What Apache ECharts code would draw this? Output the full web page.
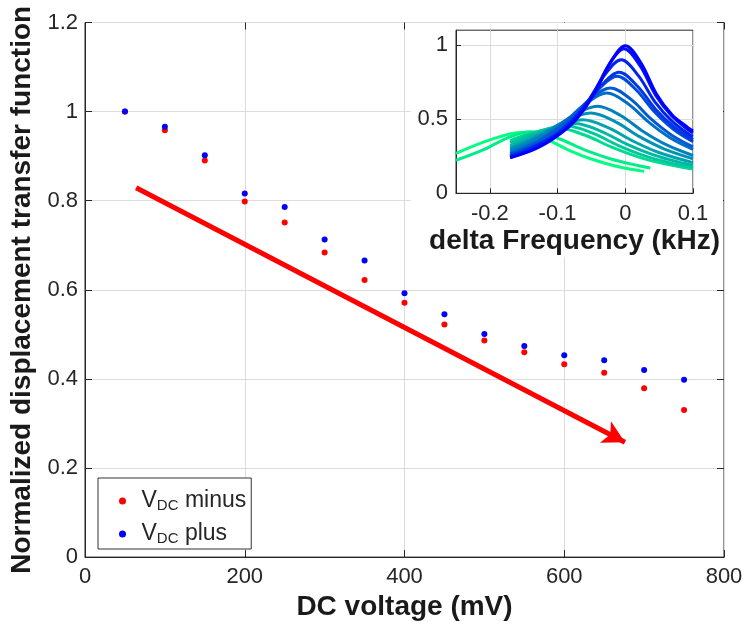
<!DOCTYPE html>
<html><head><meta charset="utf-8">
<script src="https://cdn.jsdelivr.net/npm/echarts@6/dist/echarts.min.js"></script>
<style>html,body{margin:0;padding:0;background:#fff}#c{width:747px;height:626px}</style>
</head><body><div id="c"></div>
<script>
// ---- data ----
const voltages = [50,100,150,200,250,300,350,400,450,500,550,600,650,700,750];
const vdcMinus = [1.0,0.958,0.890,0.798,0.751,0.684,0.622,0.571,0.522,0.486,0.460,0.433,0.414,0.379,0.330];
const vdcPlus  = [1.0,0.966,0.902,0.816,0.786,0.713,0.666,0.592,0.545,0.501,0.474,0.453,0.442,0.420,0.398];
const arrowStart = [64, 0.829];
const arrowEnd = [676, 0.258];
const insetXTicks = [-0.2,-0.1,0,0.1];
const insetYTicks = [0,0.5,1];
// inset resonance curves: [delta frequency (kHz), normalized amplitude]
const curve0  = [[-0.17,0.239],[-0.126,0.314],[-0.084,0.445],[-0.063,0.552],[-0.042,0.703],[-0.021,0.890],[0,0.995],[0.023,0.880],[0.046,0.670],[0.069,0.530],[0.092,0.445],[0.1,0.420]];
const curve1  = [[-0.17,0.242],[-0.131,0.308],[-0.088,0.436],[-0.0665,0.541],[-0.045,0.689],[-0.0235,0.872],[-0.002,0.975],[0.0215,0.862],[0.045,0.660],[0.0685,0.523],[0.092,0.432],[0.1,0.407]];
const curve2  = [[-0.17,0.248],[-0.147,0.284],[-0.1,0.402],[-0.0765,0.5],[-0.053,0.636],[-0.0295,0.805],[-0.006,0.9],[0.019,0.795],[0.044,0.615],[0.069,0.487],[0.094,0.398],[0.1,0.384]];
const curve3  = [[-0.17,0.25],[-0.113,0.365],[-0.087,0.453],[-0.061,0.577],[-0.035,0.729],[-0.009,0.816],[0.018,0.722],[0.045,0.565],[0.072,0.447],[0.1,0.362]];
const curve4  = [[-0.17,0.255],[-0.12,0.353],[-0.093,0.438],[-0.066,0.558],[-0.039,0.705],[-0.012,0.789],[0.0155,0.700],[0.043,0.550],[0.0705,0.434],[0.1,0.348]];
const curve5  = [[-0.17,0.267],[-0.142,0.317],[-0.112,0.394],[-0.082,0.502],[-0.052,0.635],[-0.022,0.71],[0.008,0.635],[0.038,0.502],[0.068,0.394],[0.1,0.313]];
const curve6  = [[-0.17,0.272],[-0.153,0.302],[-0.1215,0.375],[-0.09,0.478],[-0.0585,0.604],[-0.027,0.676],[0.004,0.604],[0.035,0.478],[0.066,0.375],[0.1,0.296]];
const curve7  = [[-0.17,0.286],[-0.149,0.326],[-0.113,0.415],[-0.077,0.525],[-0.041,0.587],[-0.007,0.525],[0.027,0.415],[0.061,0.326],[0.1,0.255]];
const curve8  = [[-0.17,0.296],[-0.129,0.382],[-0.09,0.484],[-0.051,0.541],[-0.015,0.484],[0.021,0.382],[0.057,0.30],[0.1,0.233]];
const curve9  = [[-0.17,0.306],[-0.147,0.351],[-0.105,0.443],[-0.063,0.496],[-0.0255,0.443],[0.012,0.351],[0.0495,0.275],[0.1,0.207]];
const curve10 = [[-0.17,0.32],[-0.119,0.42],[-0.075,0.47],[-0.0365,0.42],[0.002,0.332],[0.0405,0.261],[0.079,0.21],[0.1,0.19]];
const curve11 = [[-0.17,0.34],[-0.134,0.407],[-0.088,0.455],[-0.049,0.407],[-0.01,0.322],[0.029,0.252],[0.068,0.203],[0.1,0.174]];
const curve12 = [[-0.17,0.354],[-0.1475,0.393],[-0.1,0.44],[-0.06,0.393],[-0.02,0.311],[0.02,0.244],[0.06,0.197],[0.1,0.163]];
const curve13 = [[-0.25,0.223],[-0.21,0.293],[-0.175,0.371],[-0.14,0.415],[-0.1,0.371],[-0.06,0.293],[-0.02,0.230],[0.02,0.186],[0.037,0.171]];
const curve14 = [[-0.25,0.27],[-0.1955,0.367],[-0.153,0.41],[-0.118,0.367],[-0.083,0.29],[-0.048,0.228],[-0.013,0.183],[0.028,0.148]];
const insetCurves = [curve0,curve1,curve2,curve3,curve4,curve5,curve6,curve7,curve8,curve9,curve10,curve11,curve12,curve13,curve14];

// ---- styles ----
const FONT = 'Liberation Sans, Arial, Helvetica, sans-serif';
const TXT = '#262626';
const GRIDC = '#dcdcdc';
function winter(i, n) { const t = i / (n - 1); return 'rgb(0,' + Math.round(255 * t) + ',' + Math.round(255 * (1 - 0.5 * t)) + ')'; }

const chart = echarts.init(document.getElementById('c'), null, {renderer: 'canvas'});

const insetSeries = [];
for (let i = insetCurves.length - 1; i >= 0; i--) {
  insetSeries.push({
    type: 'line', xAxisIndex: 2, yAxisIndex: 2, data: insetCurves[i],
    showSymbol: false, smooth: 0.35, z: 12, silent: true,
    lineStyle: {width: 3, color: winter(i, insetCurves.length)}
  });
}

const option = {
  animation: false,
  textStyle: {fontFamily: FONT},
  graphic: {elements: [{type: 'rect', z: 5, silent: true, shape: {x: 411, y: 23, width: 312, height: 234}, style: {fill: '#fff'}}]},
  legend: {
    data: ['VDC minus', 'VDC plus'], orient: 'vertical', left: 98, top: 478,
    padding: [3, 5, 3, 21], itemGap: 1, itemWidth: 28, itemHeight: 7, icon: 'circle',
    borderColor: '#333', borderWidth: 1, backgroundColor: '#fff',
    formatter: function (name) { return '{a|V}{s|DC}{a| ' + name.slice(4) + '}'; },
    textStyle: {color: TXT, fontFamily: FONT, rich: {
      a: {fontSize: 23, lineHeight: 24, verticalAlign: 'top', color: TXT, fontFamily: FONT},
      s: {fontSize: 15, lineHeight: 15, verticalAlign: 'bottom', padding: [17, 0, 0, 0], color: TXT, fontFamily: FONT}
    }}
  },
  grid: [
    {left: 85, top: 22.5, width: 639, height: 538, show: true, borderColor: '#262626', borderWidth: 1, containLabel: false},
    {left: 456, top: 30.2, width: 237, height: 163.1, show: true, borderColor: '#262626', borderWidth: 1, z: 10, containLabel: false}
  ],
  xAxis: [
    {gridIndex: 0, type: 'value', min: 0, max: 800, interval: 200,
     name: 'DC voltage (mV)', nameLocation: 'middle', nameGap: 31,
     nameTextStyle: {fontSize: 28, fontWeight: 'bold', color: '#1a1a1a', fontFamily: FONT},
     axisLine: {onZero: false, lineStyle: {color: '#262626'}}, axisTick: {inside: true, length: 7, lineStyle: {color: '#262626'}},
     axisLabel: {fontSize: 22, color: TXT, margin: 9, fontFamily: FONT},
     splitLine: {show: true, lineStyle: {color: GRIDC}}},
    {gridIndex: 0, type: 'value', position: 'top', min: 0, max: 800, interval: 200,
     axisLine: {show: false, onZero: false}, axisTick: {inside: true, length: 7, lineStyle: {color: '#262626'}},
     axisLabel: {show: false}, splitLine: {show: false}},
    {gridIndex: 1, type: 'value', min: -0.25, max: 0.1, z: 10,
     name: 'delta Frequency (kHz)', nameLocation: 'middle', nameGap: 34,
     nameTextStyle: {fontSize: 28, fontWeight: 'bold', color: '#1a1a1a', fontFamily: FONT},
     axisLine: {onZero: false, lineStyle: {color: '#262626'}},
     axisTick: {inside: true, length: 5, customValues: insetXTicks, lineStyle: {color: '#262626'}},
     axisLabel: {fontSize: 22, color: TXT, margin: 10, customValues: insetXTicks, fontFamily: FONT},
     splitLine: {show: true, lineStyle: {color: GRIDC}}}
  ],
  yAxis: [
    {gridIndex: 0, type: 'value', min: 0, max: 1.2, interval: 0.2,
     name: 'Normalized displacement transfer function', nameLocation: 'middle', nameGap: 47,
     nameTextStyle: {fontSize: 28, fontWeight: 'bold', color: '#1a1a1a', fontFamily: FONT},
     axisLine: {onZero: false, lineStyle: {color: '#262626'}}, axisTick: {inside: true, length: 7, lineStyle: {color: '#262626'}},
     axisLabel: {fontSize: 22, color: TXT, margin: 7, fontFamily: FONT},
     splitLine: {show: true, lineStyle: {color: GRIDC}}},
    {gridIndex: 0, type: 'value', position: 'right', min: 0, max: 1.2, interval: 0.2,
     axisLine: {show: false, onZero: false}, axisTick: {inside: true, length: 7, lineStyle: {color: '#262626'}},
     axisLabel: {show: false}, splitLine: {show: false}},
    {gridIndex: 1, type: 'value', min: 0, max: 1.1, z: 10,
     axisLine: {onZero: false, lineStyle: {color: '#262626'}},
     axisTick: {inside: true, length: 5, customValues: insetYTicks, lineStyle: {color: '#262626'}},
     axisLabel: {fontSize: 22, color: TXT, margin: 8, customValues: insetYTicks, fontFamily: FONT},
     splitLine: {show: true, lineStyle: {color: GRIDC}}}
  ],
  series: [
    {name: 'VDC minus', type: 'scatter', xAxisIndex: 0, yAxisIndex: 0, symbolSize: 6,
     itemStyle: {color: '#ff0000', opacity: 1}, data: voltages.map((v, i) => [v, vdcMinus[i]])},
    {name: 'VDC plus', type: 'scatter', xAxisIndex: 0, yAxisIndex: 0, symbolSize: 6,
     itemStyle: {color: '#0000ff', opacity: 1}, data: voltages.map((v, i) => [v, vdcPlus[i]])},
    {name: 'arrow', type: 'line', xAxisIndex: 0, yAxisIndex: 0, data: [], silent: true,
     markLine: {silent: true, symbol: ['none', 'arrow'], symbolSize: [18, 22], label: {show: false},
       lineStyle: {color: '#ff0000', width: 5, type: 'solid'},
       data: [[{coord: arrowStart}, {coord: arrowEnd}]]}}
  ].concat(insetSeries)
};
chart.setOption(option);
</script></body></html>
